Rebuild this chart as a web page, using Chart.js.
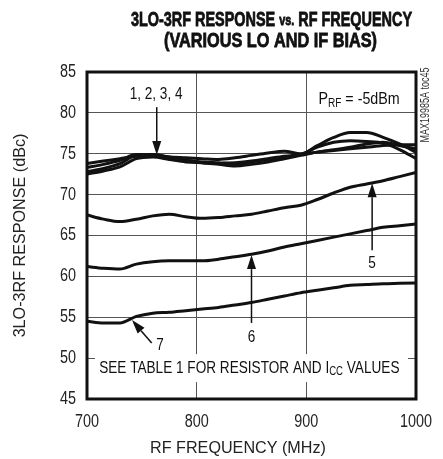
<!DOCTYPE html>
<html><head><meta charset="utf-8">
<script src="https://cdn.jsdelivr.net/npm/chart.js@4/dist/chart.umd.min.js"></script>
<style>html,body{margin:0;padding:0;background:#fff}#wrap{width:443px;height:459px;position:relative}</style>
</head><body><div id="wrap"><canvas id="c" width="443" height="459"></canvas></div>
<script>
const freqMHz = [700,715,730,745,760,775,790,805,820,835,850,865,880,895,910,925,940,955,970,985,1000];
const curve1 = [73.8,74.1,74.4,74.7,74.8,74.6,74.5,74.4,74.3,74.5,74.8,75.1,75.3,75.0,76.0,77.0,77.6,77.6,77.0,76.2,75.2];
const curve2 = [73.3,73.7,74.2,74.9,74.9,74.5,74.2,74.0,73.9,73.8,74.0,74.3,74.6,74.9,75.8,76.4,76.6,76.5,76.3,75.5,74.4];
const curve3 = [72.8,73.2,73.8,74.8,74.9,74.6,74.2,73.9,73.7,73.5,73.7,74.0,74.4,74.8,75.2,75.5,75.8,76.2,76.4,76.0,75.6];
const curve4 = [72.5,72.9,73.4,74.4,74.6,74.3,74.0,73.9,73.8,73.9,74.1,74.4,74.7,74.9,75.2,75.4,75.6,75.8,76.0,76.1,76.1];
const curve5 = [67.5,67.0,66.7,67.0,67.4,67.6,67.3,67.1,67.2,67.4,67.6,68.0,68.4,68.7,69.4,70.2,70.9,71.3,71.7,72.2,72.7];
const curve6 = [61.2,61.0,60.9,61.5,61.8,61.9,61.9,61.9,62.1,62.4,62.7,63.1,63.6,64.0,64.4,64.8,65.2,65.6,66.0,66.2,66.4];
const curve7 = [54.5,54.3,54.3,55.1,55.5,55.6,55.8,56.0,56.2,56.5,56.8,57.2,57.6,58.0,58.3,58.6,58.9,59.0,59.1,59.15,59.2];
const xTicks = [700,800,900,1000];
const yTicks = [45,50,55,60,65,70,75,80,85];

const FONT = '"Liberation Sans","Arial",sans-serif';
const SX = 0.8;   // horizontal condensing of text
const curves = [curve1,curve2,curve3,curve4,curve5,curve6,curve7];
const datasets = curves.map(c => ({
  data: freqMHz.map((f,i)=>({x:f,y:c[i]})),
  borderColor:'#111', borderWidth:3, pointRadius:0, tension:0.4,
  cubicInterpolationMode:'monotone', fill:false
}));

function runText(ctx, segs, x, y, align, sx, strokeW){
  let w=0;
  segs.forEach(s=>{ctx.font=(s[3]||'')+' '+s[1]+'px '+FONT; w+=ctx.measureText(s[0]).width;});
  w*=sx;
  let x0 = align==='center'? x-w/2 : align==='right'? x-w : x;
  ctx.save(); ctx.translate(x0,y); ctx.scale(sx,1); ctx.textAlign='left'; ctx.textBaseline='middle';
  let cx=0;
  segs.forEach(s=>{ctx.font=(s[3]||'')+' '+s[1]+'px '+FONT; ctx.fillText(s[0],cx,s[2]||0);
    if(strokeW){ctx.lineWidth=strokeW; ctx.strokeStyle=ctx.fillStyle; ctx.strokeText(s[0],cx,s[2]||0);}
    cx+=ctx.measureText(s[0]).width;});
  ctx.restore();
}
function fitScale(ctx, segs, width){
  let w=0; segs.forEach(s=>{ctx.font=(s[3]||'')+' '+s[1]+'px '+FONT; w+=ctx.measureText(s[0]).width;});
  return width/w;
}
function arrow(ctx, x1,y1,x2,y2){
  const ang = Math.atan2(y2-y1,x2-x1), L=14, W=4.5;
  ctx.beginPath(); ctx.moveTo(x1,y1);
  ctx.lineTo(x2-Math.cos(ang)*L, y2-Math.sin(ang)*L); ctx.stroke();
  ctx.beginPath(); ctx.moveTo(x2,y2);
  ctx.lineTo(x2-Math.cos(ang)*L - Math.sin(ang)*W, y2-Math.sin(ang)*L + Math.cos(ang)*W);
  ctx.lineTo(x2-Math.cos(ang)*L + Math.sin(ang)*W, y2-Math.sin(ang)*L - Math.cos(ang)*W);
  ctx.closePath(); ctx.fill();
}

const extras = {
  id:'extras',
  afterDraw(chart){
    const ctx = chart.ctx, xs = chart.scales.x, ys = chart.scales.y, a = chart.chartArea;
    const X = v=>xs.getPixelForValue(v), Y = v=>ys.getPixelForValue(v);
    const cyp=(a.top+a.bottom)/2;
    ctx.save();
    ctx.fillStyle='#fff';
    ctx.fillRect(a.left+8, Y(50)-4, a.right-a.left-16, 28);
    ctx.strokeStyle='#111'; ctx.lineWidth=3;
    ctx.strokeRect(a.left, a.top, a.right-a.left, a.bottom-a.top);

    // title
    ctx.fillStyle='#111';
    const t1=[['3LO-3RF RESPONSE ',20,0,'bold'],['vs.',15,1,'bold'],[' RF FREQUENCY',20,0,'bold']];
    const t2=[['(VARIOUS LO AND IF BIAS)',20,0,'bold']];
    runText(ctx,t1,271.5,20,'center',fitScale(ctx,t1,281),0.8);
    runText(ctx,t2,270.5,41,'center',fitScale(ctx,t2,213),0.8);

    // tick labels
    ctx.fillStyle='#222';
    xTicks.forEach(v=>runText(ctx,[[String(v),18]],X(v),a.bottom+23,'center',SX));
    yTicks.forEach(v=>runText(ctx,[[String(v),18]],a.left-11,Y(v),'right',SX));
    // axis titles
    runText(ctx,[['RF FREQUENCY (MHz)',17]],238,448,'center',0.95);
    ctx.save(); ctx.translate(20,cyp); ctx.rotate(-Math.PI/2);
    runText(ctx,[['3LO-3RF RESPONSE (dBc)',17]],0,0,'center',0.95);
    ctx.restore();

    // annotations
    ctx.fillStyle='#111'; ctx.strokeStyle='#111'; ctx.lineWidth=1.5;
    runText(ctx,[['1, 2, 3, 4',17]],X(763),Y(82.3),'center',SX);
    arrow(ctx, X(763.6), Y(80.7), X(763.6), Y(74.85));
    arrow(ctx, X(960), Y(63.2), X(960), Y(71.4));
    runText(ctx,[['5',17]],X(960),Y(61.6),'center',SX);
    arrow(ctx, X(850), Y(54.3), X(850), Y(62.6));
    runText(ctx,[['6',17]],X(850),Y(52.5),'center',SX);
    arrow(ctx, X(759), Y(51.85), X(741), Y(54.66));
    runText(ctx,[['7',17]],X(766.5),Y(51.6),'center',SX);
    runText(ctx,[['P',17],['RF',12,4],[' = -5dBm',17]],X(911),Y(81.6),'left',0.84);
    runText(ctx,[['SEE TABLE 1 FOR RESISTOR AND I',17],['CC',12,4],[' VALUES',17]],X(848),Y(48.8),'center',SX);
    // side id
    ctx.save(); ctx.translate(426, 105); ctx.rotate(-Math.PI/2);
    ctx.fillStyle='#333';
    runText(ctx,[['MAX19985A toc45',12]],0,0,'center',0.75);
    ctx.restore();
    ctx.restore();
  }
};

new Chart(document.getElementById('c'), {
  type:'line',
  data:{datasets},
  options:{
    responsive:false, animation:false, devicePixelRatio:1,
    layout:{padding:{top:72, right:27, left:0, bottom:0}},
    plugins:{legend:{display:false}, tooltip:{enabled:false}, title:{display:false}},
    scales:{
      x:{type:'linear', min:700, max:1000,
        afterBuildTicks(s){ s.ticks = xTicks.map(v=>({value:v})); },
        afterFit(s){ s.height = 60; },
        grid:{color:'#555', lineWidth:1, drawTicks:false},
        border:{display:false},
        ticks:{display:false}
      },
      y:{min:45, max:85,
        afterBuildTicks(s){ s.ticks = yTicks.map(v=>({value:v})); },
        afterFit(s){ s.width = 87; },
        grid:{color:'#555', lineWidth:1, drawTicks:false},
        border:{display:false},
        ticks:{display:false}
      }
    }
  },
  plugins:[extras]
});
</script></body></html>
